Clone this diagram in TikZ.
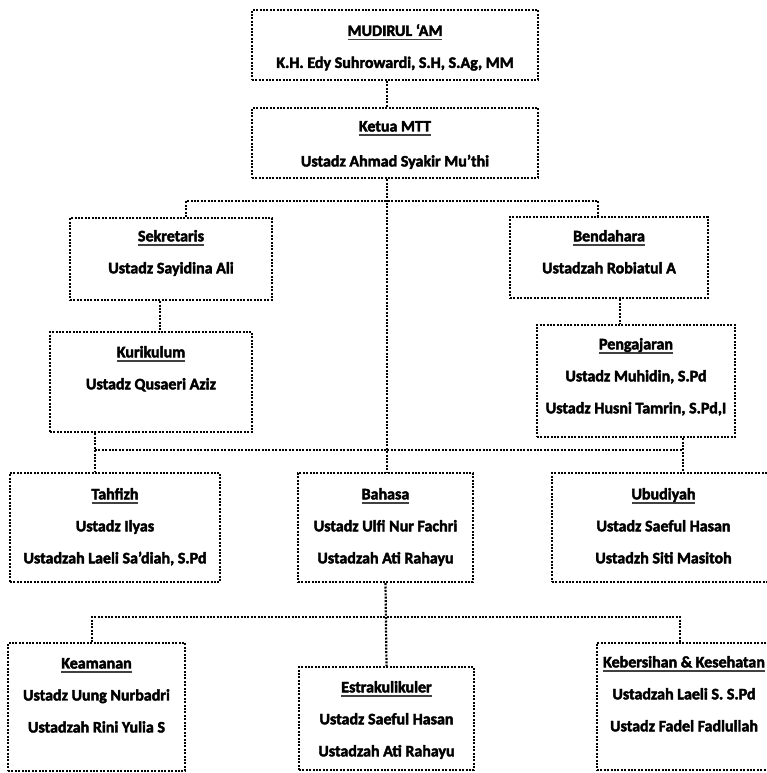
\documentclass[tikz,border=0pt]{standalone}
\usepackage{fontspec}
\setmainfont{Carlito}[BoldFeatures={FakeBold=2.6}]
\usetikzlibrary{positioning}

% underlined heading inside a box
\newcommand{\judul}[1]{\setbox0\hbox{#1}\rlap{\color{black!75}\rule[-4.5pt]{\wd0}{1.8pt}}\box0}

\tikzset{
  kotak/.style={draw, rectangle, line width=2.2pt, dash pattern=on 2pt off 1.4pt},
  garis/.style={line width=2.2pt, dash pattern=on 2pt off 1.4pt},
  isi/.style={align=center, inner sep=0pt, font=\bfseries\fontsize{16}{32}\selectfont},
}

\begin{document}
\begin{tikzpicture}[x=1pt, y=-1pt]
\useasboundingbox (0,0) rectangle (766,773);

% Boxes
\node[kotak, minimum width=286pt, minimum height=70pt] (mudirul) at (395,45) {};
\node[kotak, minimum width=286pt, minimum height=70pt] (ketua) at (395,143) {};
\node[kotak, minimum width=202pt, minimum height=82pt] (sek) at (171,259) {};
\node[kotak, minimum width=198pt, minimum height=81pt] (bend) at (609,257.5) {};
\node[kotak, minimum width=202pt, minimum height=100pt] (kur) at (151,382) {};
\node[kotak, minimum width=198pt, minimum height=112pt] (peng) at (636,381) {};
\node[kotak, minimum width=210pt, minimum height=109pt] (tahfizh) at (115,527.5) {};
\node[kotak, minimum width=175pt, minimum height=109pt] (bahasa) at (385.5,527.5) {};
\node[kotak, minimum width=223pt, minimum height=109pt] (ubud) at (663.5,527.5) {};
\node[kotak, minimum width=177pt, minimum height=128pt] (keam) at (96.5,707) {};
\node[kotak, minimum width=175pt, minimum height=103pt] (estrak) at (386.5,718.5) {};
\node[kotak, minimum width=174pt, minimum height=127pt] (keb) at (684,706.5) {};

% Texts
\node[isi, below=15pt of mudirul.north] (t-mudirul) {\judul{MUDIRUL ‘AM}\\K.H. Edy Suhrowardi, S.H, S.Ag, MM};
\node[isi, below=14pt of ketua.north] (t-ketua) {\judul{Ketua MTT}\\[3pt]Ustadz Ahmad Syakir Mu’thi};
\node[isi, below=13pt of sek.north] (t-sek) {\judul{Sekretaris}\\Ustadz Sayidina Ali};
\node[isi, below=14pt of bend.north] (t-bend) {\judul{Bendahara}\\Ustadzah Robiatul A};
\node[isi, below=15pt of kur.north] (t-kur) {\judul{Kurikulum}\\Ustadz Qusaeri Aziz};
\node[isi, below=14pt of peng.north] (t-peng) {\judul{Pengajaran}\\Ustadz Muhidin, S.Pd\\Ustadz Husni Tamrin, S.Pd,I};
\node[isi, below=16pt of tahfizh.north] (t-tahfizh) {\judul{Tahfizh}\\Ustadz Ilyas\\Ustadzah Laeli Sa’diah, S.Pd};
\node[isi, below=16pt of bahasa.north] (t-bahasa) {\judul{Bahasa}\\Ustadz Ulfi Nur Fachri\\Ustadzah Ati Rahayu};
\node[isi, below=16pt of ubud.north] (t-ubud) {\judul{Ubudiyah}\\Ustadz Saeful Hasan\\Ustadzh Siti Masitoh};
\node[isi, below=16pt of keam.north] (t-keam) {\judul{Keamanan}\\Ustadz Uung Nurbadri\\Ustadzah Rini Yulia S};
\node[isi, below=15pt of estrak.north] (t-estrak) {\judul{Estrakulikuler}\\Ustadz Saeful Hasan\\Ustadzah Ati Rahayu};
\node[isi, below=14pt of keb.north] (t-keb) {\judul{Kebersihan \& Kesehatan}\\Ustadzah Laeli S. S.Pd\\Ustadz Fadel Fadlullah};

% Connector points
\coordinate (trunk) at (387,0);
\coordinate (b1l) at (186,201);
\coordinate (b1r) at (598,201);
\coordinate (k1) at (160,0);
\coordinate (k2) at (620,0);
\coordinate (b2l) at (95,450);
\coordinate (b2r) at (683,450);
\coordinate (b3l) at (92,617);
\coordinate (b3r) at (680,617);

% Connectors
\draw[garis] (mudirul.south -| trunk) -- (ketua.north -| trunk);
\draw[garis] (ketua.south -| trunk) -- (bahasa.north -| trunk);
\draw[garis] (sek.north -| b1l) -- (b1l) -- (b1r) -- (bend.north -| b1r);
\draw[garis] (sek.south -| k1) -- (kur.north -| k1);
\draw[garis] (bend.south -| k2) -- (peng.north -| k2);
\draw[garis] (kur.south -| b2l) -- (tahfizh.north -| b2l);
\draw[garis] (b2l) -- (b2r);
\draw[garis] (peng.south -| b2r) -- (ubud.north -| b2r);
\draw[garis] (bahasa.south) -- (estrak.north);
\draw[garis] (keam.north -| b3l) -- (b3l) -- (b3r) -- (keb.north -| b3r);

\end{tikzpicture}
\end{document}
